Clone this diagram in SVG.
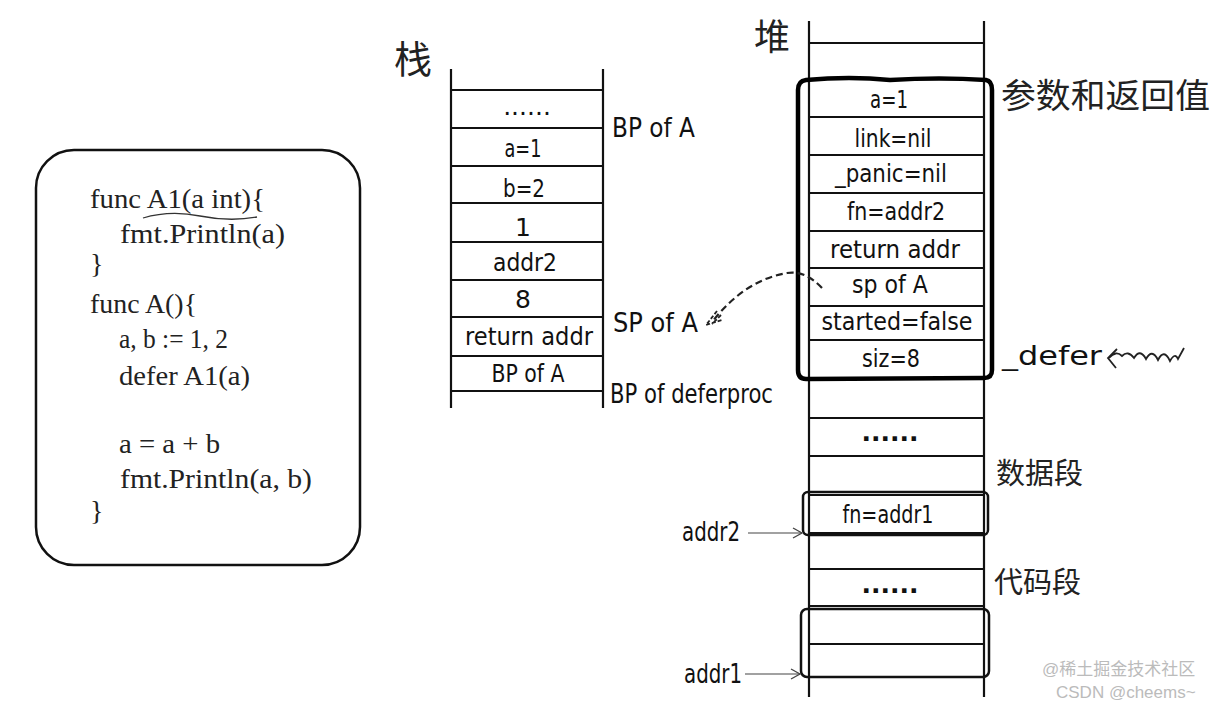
<svg xmlns="http://www.w3.org/2000/svg" width="1222" height="705" viewBox="0 0 1222 705">
<style>
.bg{fill:#fff}
.line{stroke:#111;stroke-width:2.2;fill:none}
.thick{stroke:#000;stroke-width:4.5;fill:none}
.box{stroke:#111;stroke-width:2.5;fill:none}
.code{font-family:"Liberation Serif","DejaVu Serif",serif;font-size:28px;fill:#222}
.hw{font-family:"DejaVu Sans","Liberation Sans",sans-serif;font-size:25px;fill:#111;text-anchor:middle}
.lab{font-family:"DejaVu Sans","Liberation Sans",sans-serif;font-size:26px;fill:#111}
.cn{font-family:"Noto Sans CJK SC","Noto Sans",sans-serif;fill:#222}
.wm{font-family:"Liberation Sans","Noto Sans CJK SC",sans-serif;font-size:17px;fill:#bbb}
</style>
<defs>
<marker id="openArrow" markerWidth="12" markerHeight="12" refX="10" refY="6" orient="auto" markerUnits="userSpaceOnUse">
<path d="M1,1 L10,6 L1,11" fill="none" stroke="#444" stroke-width="1.3"/>
</marker>
</defs>
<rect class="bg" x="0" y="0" width="1222" height="705"/>

<g id="code-block">
<rect class="box" x="36" y="150" width="324" height="415" rx="38" ry="38"/>
<text class="code" x="90" y="208" textLength="175" lengthAdjust="spacingAndGlyphs">func A1(a int){</text>
<path d="M143,218 Q170,210 200,216 T257,217" fill="none" stroke="#333" stroke-width="1.3"/>
<text class="code" x="120" y="243" textLength="165" lengthAdjust="spacingAndGlyphs">fmt.Println(a)</text>
<text class="code" x="90" y="273">}</text>
<text class="code" x="90" y="313" textLength="107" lengthAdjust="spacingAndGlyphs">func A(){</text>
<text class="code" x="119" y="348" textLength="109" lengthAdjust="spacingAndGlyphs">a, b := 1, 2</text>
<text class="code" x="119" y="385" textLength="131" lengthAdjust="spacingAndGlyphs">defer A1(a)</text>
<text class="code" x="119" y="453" textLength="101" lengthAdjust="spacingAndGlyphs">a = a + b</text>
<text class="code" x="120" y="488" textLength="192" lengthAdjust="spacingAndGlyphs">fmt.Println(a, b)</text>
<text class="code" x="90" y="520">}</text>
</g>

<g id="stack">
<text class="cn" x="394" y="73" font-size="38">栈</text>
<line class="line" x1="451" y1="69" x2="451" y2="408"/>
<line class="line" x1="603" y1="69" x2="603" y2="408"/>
<line class="line" x1="451" y1="90" x2="603" y2="90"/>
<line class="line" x1="451" y1="128" x2="603" y2="128"/>
<line class="line" x1="451" y1="166" x2="603" y2="166"/>
<line class="line" x1="451" y1="203" x2="603" y2="203"/>
<line class="line" x1="451" y1="242" x2="603" y2="242"/>
<line class="line" x1="451" y1="280" x2="603" y2="280"/>
<line class="line" x1="451" y1="317" x2="603" y2="317"/>
<line class="line" x1="451" y1="356" x2="603" y2="356"/>
<line class="line" x1="451" y1="391" x2="603" y2="391"/>
<text class="hw" x="527" y="115" font-size="12">......</text>
<text class="hw" x="523" y="157" textLength="37" lengthAdjust="spacingAndGlyphs">a=1</text>
<text class="hw" x="524" y="197" textLength="42" lengthAdjust="spacingAndGlyphs">b=2</text>
<text class="hw" x="523" y="236">1</text>
<text class="hw" x="525" y="271" textLength="64" lengthAdjust="spacingAndGlyphs">addr2</text>
<text class="hw" x="523" y="308">8</text>
<text class="hw" x="529" y="345" textLength="128" lengthAdjust="spacingAndGlyphs">return addr</text>
<text class="hw" x="528" y="382" textLength="73" lengthAdjust="spacingAndGlyphs">BP of A</text>
</g>

<g id="stack-labels">
<text class="lab" x="612" y="137" textLength="83" lengthAdjust="spacingAndGlyphs">BP of A</text>
<text class="lab" x="613" y="332" textLength="85" lengthAdjust="spacingAndGlyphs">SP of A</text>
<text class="lab" x="610" y="403" textLength="163" lengthAdjust="spacingAndGlyphs">BP of deferproc</text>
</g>

<g id="heap">
<text class="cn" x="754" y="50" font-size="36">堆</text>
<line class="line" x1="809" y1="21" x2="809" y2="697"/>
<line class="line" x1="984" y1="21" x2="984" y2="697"/>
<line class="line" x1="809" y1="43" x2="984" y2="43"/>
<line class="line" x1="809" y1="117" x2="984" y2="117"/>
<line class="line" x1="809" y1="155" x2="984" y2="155"/>
<line class="line" x1="809" y1="193" x2="984" y2="193"/>
<line class="line" x1="809" y1="231" x2="984" y2="231"/>
<line class="line" x1="809" y1="268" x2="984" y2="268"/>
<line class="line" x1="809" y1="306" x2="984" y2="306"/>
<line class="line" x1="809" y1="340" x2="984" y2="340"/>
<line class="line" x1="809" y1="418" x2="984" y2="418"/>
<line class="line" x1="809" y1="456" x2="984" y2="456"/>
<line class="line" x1="809" y1="495" x2="984" y2="495"/>
<line class="line" x1="809" y1="533" x2="984" y2="533"/>
<line class="line" x1="809" y1="569" x2="984" y2="569"/>
<line class="line" x1="809" y1="606" x2="984" y2="606"/>
<line class="line" x1="809" y1="644" x2="984" y2="644"/>
</g>

<g id="defer-struct">
<path class="thick" d="M806,80 Q850,76 890,80 Q940,77 986,80 Q992,81 992,90 L992,370 Q992,378 984,378 L806,379 Q798,379 798,370 L798,90 Q798,81 806,80 Z"/>
<text class="hw" x="889" y="108" textLength="38" lengthAdjust="spacingAndGlyphs">a=1</text>
<text class="hw" x="893" y="147" textLength="77" lengthAdjust="spacingAndGlyphs">link=nil</text>
<text class="hw" x="891" y="182" textLength="112" lengthAdjust="spacingAndGlyphs">_panic=nil</text>
<text class="hw" x="896" y="220" textLength="98" lengthAdjust="spacingAndGlyphs">fn=addr2</text>
<text class="hw" x="895" y="258" textLength="130" lengthAdjust="spacingAndGlyphs">return addr</text>
<text class="hw" x="890" y="293" textLength="76" lengthAdjust="spacingAndGlyphs">sp of A</text>
<text class="hw" x="897" y="330" textLength="151" lengthAdjust="spacingAndGlyphs">started=false</text>
<text class="hw" x="891" y="367" textLength="58" lengthAdjust="spacingAndGlyphs">siz=8</text>
</g>

<g id="heap-cells">
<text class="hw" x="890" y="441" font-size="13" font-weight="bold">......</text>
<rect class="box" x="803" y="492" width="185" height="43" rx="5" ry="5"/>
<text class="hw" x="888" y="523" textLength="91" lengthAdjust="spacingAndGlyphs">fn=addr1</text>
<text class="hw" x="890" y="593" font-size="13" font-weight="bold">......</text>
<rect class="box" x="801" y="609" width="188" height="68" rx="6" ry="6"/>
</g>

<g id="heap-labels">
<text class="cn" x="1001" y="108" font-size="34" textLength="209" lengthAdjust="spacingAndGlyphs">参数和返回值</text>
<text class="lab" x="1002" y="365" font-size="31" textLength="100" lengthAdjust="spacingAndGlyphs">_defer</text>
<text class="cn" x="996" y="484" font-size="29">数据段</text>
<text class="cn" x="994" y="593" font-size="29">代码段</text>
<text class="lab" x="682" y="541" font-size="24" textLength="58" lengthAdjust="spacingAndGlyphs">addr2</text>
<text class="lab" x="684" y="683" font-size="24" textLength="58" lengthAdjust="spacingAndGlyphs">addr1</text>
</g>

<g id="connectors">
<path d="M822,288 Q805,270 787,273 Q745,280 712,322" fill="none" stroke="#222" stroke-width="2.2" stroke-dasharray="7,4"/>
<path d="M717,311 L706,325 L722,320 M721,315 L712,324" fill="none" stroke="#222" stroke-width="1.8" stroke-dasharray="4,2"/>
<line x1="748" y1="533" x2="802" y2="533" stroke="#444" stroke-width="1.2" marker-end="url(#openArrow)"/>
<line x1="745" y1="674" x2="800" y2="674" stroke="#444" stroke-width="1.2" marker-end="url(#openArrow)"/>
<path d="M1109,358 Q1116,350 1122,356 Q1128,350 1134,358 Q1140,348 1146,359 Q1152,348 1158,360 Q1164,348 1170,361 Q1175,352 1178,359 L1184,348" fill="none" stroke="#222" stroke-width="1.8"/>
<path d="M1117,349 L1108,358 L1116,368" fill="none" stroke="#222" stroke-width="1.8"/>
</g>

<g id="watermark">
<text class="wm" x="1042" y="675">@稀土掘金技术社区</text>
<text class="wm" x="1056" y="698">CSDN @cheems~</text>
</g>
</svg>
